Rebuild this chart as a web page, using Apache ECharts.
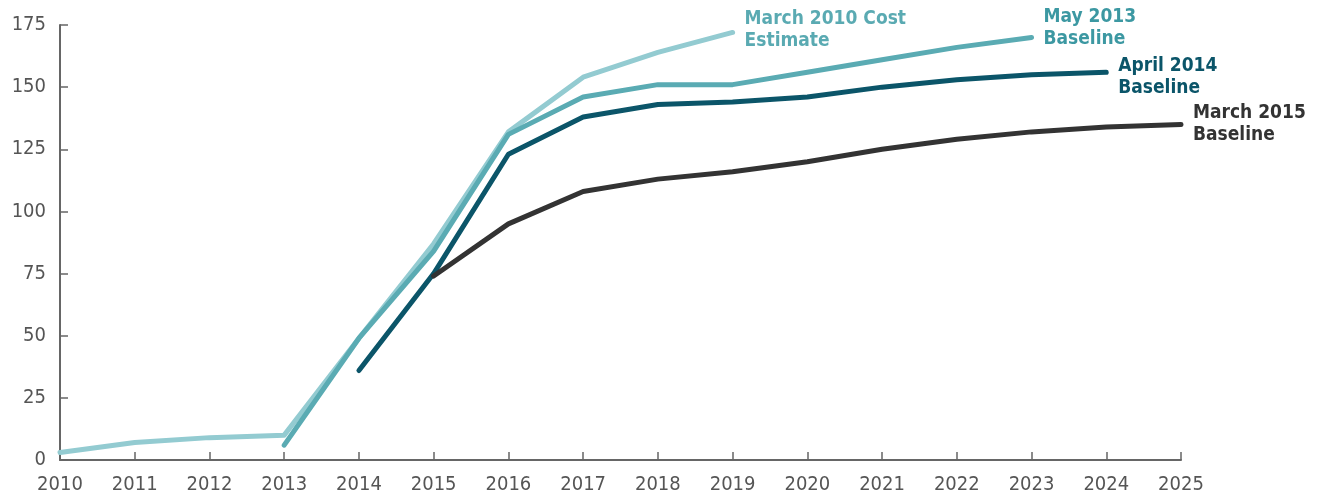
<!DOCTYPE html>
<html>
<head>
<meta charset="utf-8">
<script src="https://cdn.jsdelivr.net/npm/echarts@6/dist/echarts.min.js"></script>
<style>
  html, body { margin: 0; padding: 0; background: #fff; }
  #chart { width: 1320px; height: 501px; }
</style>
</head>
<body>
<div id="chart"></div>
<script>
  // years on the x axis
  var years = ['2010','2011','2012','2013','2014','2015','2016','2017','2018','2019','2020','2021','2022','2023','2024','2025'];
  var yTicks = [0, 25, 50, 75, 100, 125, 150, 175];

  // cumulative cost, one array per estimate (null = not part of that estimate)
  var march2010 = [3, 7, 9, 10, 49, 87, 132, 154, 164, 172, null, null, null, null, null, null];
  var may2013   = [null, null, null, 6, 49, 84, 131, 146, 151, 151, 156, 161, 166, 170, null, null];
  var april2014 = [null, null, null, null, 36, 75, 123, 138, 143, 144, 146, 150, 153, 155, 156, null];
  var march2015 = [null, null, null, null, null, 74, 95, 108, 113, 116, 120, 125, 129, 132, 134, 135];

  var font = '"DejaVu Sans Condensed", "Liberation Sans Narrow", sans-serif';

  function mkLine(name, data, color, labelColor, offset) {
    return {
      name: name,
      type: 'line',
      data: data,
      symbol: 'none',
      connectNulls: false,
      lineStyle: { color: color, width: 5, cap: 'round', join: 'round' },
      endLabel: {
        show: true,
        formatter: name,
        color: labelColor,
        fontFamily: font,
        fontWeight: 'bold',
        fontSize: 19,
        lineHeight: 22,
        distance: 12,
        offset: offset
      }
    };
  }

  var chart = echarts.init(document.getElementById('chart'));
  chart.setOption({
    animation: false,
    grid: { left: 60, right: 139, top: 25, bottom: 41 },
    xAxis: {
      type: 'category',
      data: years,
      boundaryGap: false,
      axisLine: { lineStyle: { color: '#666', width: 2 } },
      axisTick: { inside: true, length: 8, lineStyle: { color: '#666', width: 1.5 } },
      axisLabel: { color: '#555', fontFamily: font, fontSize: 20, margin: 15, interval: 0 }
    },
    yAxis: {
      type: 'value',
      min: yTicks[0],
      max: yTicks[yTicks.length - 1],
      interval: 25,
      splitLine: { show: false },
      axisLine: { show: true, lineStyle: { color: '#666', width: 2 } },
      axisTick: { show: true, inside: true, length: 8, lineStyle: { color: '#666', width: 1.5 } },
      axisLabel: { color: '#555', fontFamily: font, fontSize: 20, margin: 14 }
    },
    series: [
      mkLine('March 2010 Cost\nEstimate', march2010, '#93cbd1', '#5aaab2', [0, -2]),
      mkLine('May 2013\nBaseline', may2013, '#5aabb3', '#3c98a2', [0, -9]),
      mkLine('April 2014\nBaseline', april2014, '#0b5569', '#0b5569', [0, 5]),
      mkLine('March 2015\nBaseline', march2015, '#333333', '#333333', [0, 0])
    ]
  });
</script>
</body>
</html>
